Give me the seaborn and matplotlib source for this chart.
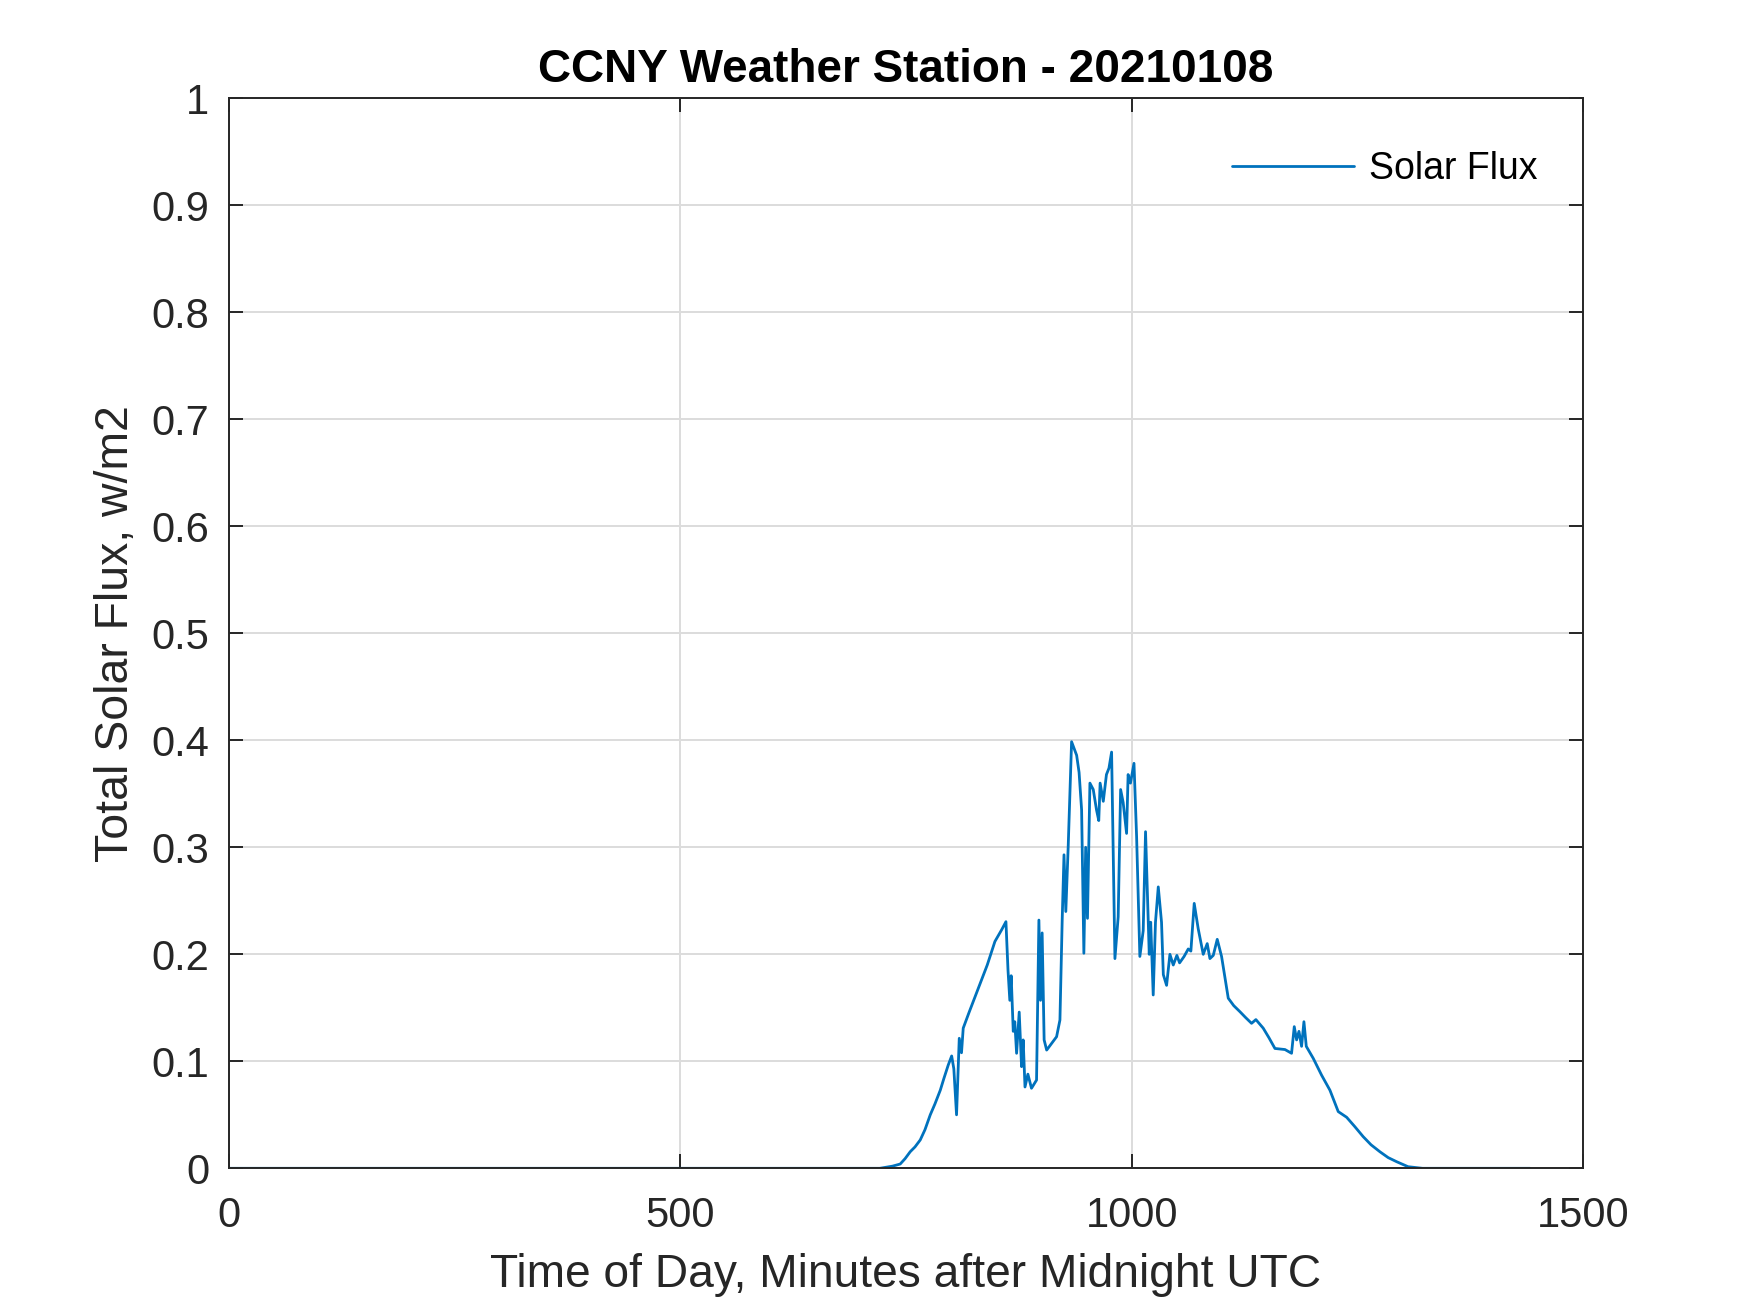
import matplotlib
matplotlib.use("Agg")
import matplotlib.pyplot as plt
import seaborn as sns
import pandas as pd

# Time of day (minutes after midnight UTC) and total solar flux
minutes = [0, 721, 735, 743.6, 749, 754.7, 760, 765.8, 771, 776.9, 782, 788, 792, 796.8,
           800.6, 803, 806, 809, 811.5, 813.4, 820, 830, 840, 848.5, 856, 860.7, 863, 865,
           866.5, 868.8, 870.5, 872.5, 875.4, 878, 879.8, 881.8, 885, 889, 894.6, 897.2,
           899, 900.8, 903, 905.8, 916.8, 920.5, 923, 925, 927, 929.7, 933.4, 939, 941.7,
           944.5, 947, 949, 951, 953.7, 957.4, 961, 963.5, 965, 968.5, 972, 974.8, 977.7,
           981.4, 985, 987.7, 990.5, 994.3, 996, 998.6, 1002.5, 1005.4, 1009, 1012.7,
           1015.3, 1019.4, 1021, 1023.8, 1026.3, 1029.4, 1033, 1035, 1038.6, 1042.3, 1046,
           1050, 1053, 1058, 1062.6, 1065.5, 1069.2, 1073.6, 1079.2, 1083.6, 1086.6,
           1090.3, 1094.7, 1099.5, 1106.9, 1113, 1119.8, 1126, 1132.7, 1137.5, 1145.6,
           1152, 1158.6, 1169.7, 1177, 1180, 1182.6, 1185.2, 1188.1, 1190.7, 1193.3, 1201,
           1210.3, 1219.5, 1228.7, 1238, 1247, 1256.3, 1265, 1274.8, 1284, 1293.3, 1306,
           1322, 1441]
flux = [0.0, 0.0, 0.002, 0.004, 0.009, 0.0155, 0.020, 0.0265, 0.036, 0.050, 0.060,
        0.073, 0.084, 0.0965, 0.105, 0.093, 0.050, 0.1215, 0.108, 0.131, 0.146, 0.168,
        0.190, 0.212, 0.223, 0.2305, 0.185, 0.157, 0.180, 0.128, 0.137, 0.1075, 0.146,
        0.095, 0.120, 0.076, 0.088, 0.0748, 0.0825, 0.232, 0.157, 0.220, 0.120, 0.1105,
        0.123, 0.1386, 0.232, 0.293, 0.240, 0.302, 0.3987, 0.386, 0.370, 0.335, 0.201,
        0.300, 0.2336, 0.360, 0.354, 0.335, 0.325, 0.360, 0.343, 0.368, 0.374, 0.389,
        0.196, 0.235, 0.354, 0.342, 0.313, 0.368, 0.360, 0.3785, 0.310, 0.198, 0.222,
        0.3146, 0.200, 0.230, 0.162, 0.230, 0.263, 0.230, 0.181, 0.171, 0.200, 0.190,
        0.199, 0.192, 0.198, 0.205, 0.203, 0.2476, 0.224, 0.200, 0.210, 0.196, 0.199,
        0.214, 0.198, 0.159, 0.152, 0.1464, 0.141, 0.1355, 0.139, 0.131, 0.122, 0.112,
        0.111, 0.1075, 0.1324, 0.120, 0.128, 0.114, 0.137, 0.114, 0.1028, 0.087, 0.073,
        0.053, 0.0477, 0.039, 0.0296, 0.022, 0.0155, 0.010, 0.0062, 0.0015, 0.0, 0.0]

x_ticks = [0, 500, 1000, 1500]
y_ticks = [0, 0.1, 0.2, 0.3, 0.4, 0.5, 0.6, 0.7, 0.8, 0.9, 1]
y_tick_labels = ["0", "0.1", "0.2", "0.3", "0.4", "0.5", "0.6", "0.7", "0.8", "0.9", "1"]

sns.set_theme(style="white")
plt.rcParams['font.family'] = ['Liberation Sans', 'DejaVu Sans']

df = pd.DataFrame({"minutes": minutes, "flux": flux})

fig = plt.figure(figsize=(8.75, 6.565), dpi=200)
ax = fig.add_axes([0.1307, 0.1102, 0.774, 0.8149])

sns.lineplot(data=df, x="minutes", y="flux", ax=ax, color="#0072BD",
             linewidth=1.0, label="Solar Flux", estimator=None, sort=False)

ax.set_xlim(0, 1500)
ax.set_ylim(0, 1)
ax.set_xticks(x_ticks)
ax.set_xticklabels([str(t) for t in x_ticks])
ax.set_yticks(y_ticks)
ax.set_yticklabels(y_tick_labels)

ax.grid(True, color="#dcdcdc", linewidth=0.7)
ax.set_axisbelow(True)
for s in ax.spines.values():
    s.set_color("#262626")
    s.set_linewidth(0.7)
    s.set_visible(True)

ax.tick_params(axis="both", which="both", direction="in", length=5, width=0.7,
               color="#262626", labelcolor="#262626", labelsize=15,
               top=True, right=True, bottom=True, left=True)
ax.tick_params(axis="x", pad=10)
ax.tick_params(axis="y", pad=7)

ax.set_xlabel("Time of Day, Minutes after Midnight UTC", fontsize=16.6,
              color="#262626", labelpad=6)
ax.set_ylabel("Total Solar Flux, w/m2", fontsize=16.7, color="#262626", labelpad=5)
ax.set_title("CCNY Weather Station - 20210108", fontsize=16.5, fontweight="bold",
             color="black", pad=6)

leg = ax.legend(loc="upper right", bbox_to_anchor=(1.005, 1.0), frameon=False,
                fontsize=13.5, handlelength=3.25, handletextpad=0.4,
                borderaxespad=1.0, labelcolor="black")

fig.savefig("out.png", dpi=200, facecolor="white")
